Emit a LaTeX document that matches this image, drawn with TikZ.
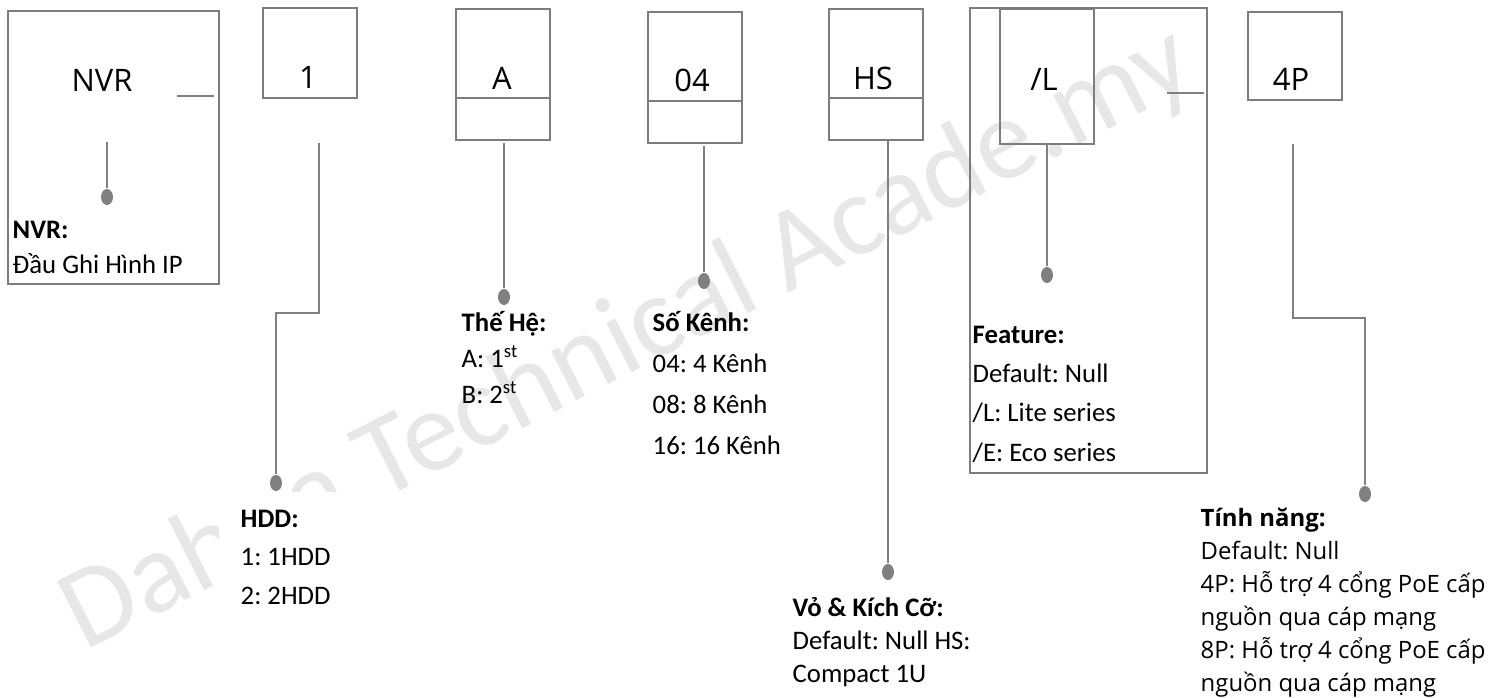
\documentclass[tikz,border=0pt]{standalone}
\usepackage{fontspec}
\setmainfont{Carlito}
\newfontfamily\boxfont{Open Sans}
\usetikzlibrary{positioning,shapes.geometric}
\definecolor{leadgray}{RGB}{128,128,128}
\definecolor{edgegray}{RGB}{125,125,125}
\definecolor{markgray}{RGB}{231,231,231}
\newcommand{\codefont}{\boxfont\fontsize{8.8}{10.6}\selectfont}
\newcommand{\infofont}{\fontsize{7.6}{10.95}\selectfont}
\newcommand{\notefont}{\fontsize{7.6}{9.25}\selectfont}
\newcommand{\tipfont}{\boxfont\fontsize{6.8}{9.33}\selectfont}
\frenchspacing

\begin{document}
\begin{tikzpicture}[x=0.01cm,y=-0.01cm,
    cell/.style={draw=edgegray,line width=0.6pt,inner sep=0pt,
                 minimum width=0.94cm,anchor=north west},
    tallcell/.style={cell,minimum height=1.31cm},
    shortcell/.style={cell,minimum height=0.9cm},
    code/.style={font=\codefont,inner sep=0pt,anchor=base},
    info/.style={font=\infofont,align=left,anchor=base west,inner sep=0pt},
    lead/.style={leadgray,line width=0.65pt},
    pin/.style={ellipse,fill=leadgray,inner sep=0pt,
                minimum width=0.12cm,minimum height=0.16cm}]
  \useasboundingbox (0,0) rectangle (1495,697);
  % watermark
  \node[rotate=27,text=markgray,font=\fontsize{33}{33}\selectfont,
        inner sep=0pt,anchor=base west]
       (mark) at (84,652) {Dahua Technical Acade.my};

  % code boxes
  \node[cell,minimum width=2.11cm,minimum height=2.73cm] (bNVR) at (7,10) {};
  \node[shortcell] (bHDD) at (262,7) {};
  \node[tallcell]  (bGen) at (455,8) {};
  \node[tallcell]  (bCh)  at (647,11) {};
  \node[tallcell]  (bHS)  at (828,8) {};
  \node[cell,minimum width=2.37cm,minimum height=4.65cm] (bFeat) at (969,7) {};
  \node[tallcell,minimum height=1.35cm] (bL) at (999,8) {};
  \node[shortcell,minimum height=0.88cm] (bPoE) at (1247,11) {};
  \foreach \b in {bGen,bCh,bHS}
    \draw[draw=edgegray,line width=0.6pt]
      ([yshift=-0.9cm]\b.north west) -- ([yshift=-0.9cm]\b.north east);

  \node[code] (tNVR) at (102,91)  {NVR};
  \node[code] (tHDD) at (308,88)  {1};
  \node[code] (tGen) at (502,89)  {A};
  \node[code] (tCh)  at (692,91)  {04};
  \node[code] (tHS)  at (873,89)  {HS};
  \node[code] (tL)   at (1044,90) {/L};
  \node[code] (tPoE) at (1291,90) {4P};

  % stubs
  \coordinate (n1) at (177,96);   \coordinate (n2) at (214,96);
  \coordinate (f1) at (1167,93);  \coordinate (f2) at (1204,93);
  \draw[lead] (n1) -- (n2);
  \draw[lead] (f1) -- (f2);

  % leads and pins
  \coordinate (sNVR) at (107,142);
  \coordinate (sHDD) at (319,143);  \coordinate (jHDD) at (276,313);
  \coordinate (sGen) at (504,143);
  \coordinate (sCh)  at (704,146);
  \coordinate (sHS)  at (888,140);
  \coordinate (sL)   at (1047,143);
  \coordinate (sPoE) at (1293,144); \coordinate (jPoE) at (1365,318);
  \node[pin] (dNVR) at (107,197) {};
  \node[pin] (dHDD) at (276,483) {};
  \node[pin] (dGen) at (504,297) {};
  \node[pin] (dCh)  at (704,281) {};
  \node[pin] (dHS)  at (888,572) {};
  \node[pin] (dL)   at (1047,275) {};
  \node[pin] (dPoE) at (1365,494) {};
  \draw[lead] (sNVR) -- (dNVR);
  \draw[lead] (sHDD) |- (jHDD) -- (dHDD);
  \draw[lead] (sGen) -- (dGen);
  \draw[lead] (sCh)  -- (dCh);
  \draw[lead] (sHS)  -- (dHS);
  \draw[lead] (sL)   -- (dL);
  \draw[lead] (sPoE) |- (jPoE) -- (dPoE);

  % descriptions (anchored at the baseline of the last line)
  \node[info,font=\fontsize{7.6}{9.67}\selectfont] (iNVR) at (12,273)
       {\textbf{NVR:}\\Đầu Ghi Hình IP};
  \node[info,fill=white,inner xsep=0.22cm,inner ysep=0.18cm,anchor=south west]
       (iHDD) at (218,623) {\textbf{HDD:}\\1: 1HDD\\2: 2HDD};
  \node[info,font=\fontsize{7.6}{10.1}\selectfont] (iGen) at (461,403)
       {\textbf{Thế Hệ:}\\A: 1\textsuperscript{st}\\B: 2\textsuperscript{st}};
  \node[info,font=\fontsize{7.6}{11.58}\selectfont] (iCh) at (652,454)
       {\textbf{Số Kênh:}\\04: 4 Kênh\\08: 8 Kênh\\16: 16 Kênh};
  \node[info,font=\fontsize{7.6}{11.1}\selectfont] (iFeat) at (972,461)
       {\textbf{Feature:}\\Default: Null\\/L: Lite series\\/E: Eco series};
  \node[info,font=\notefont] (iHS) at (792,682)
       {\textbf{Vỏ \& Kích Cỡ:}\\Default: Null HS:\\Compact 1U};
  \node[info,font=\tipfont] (iPoE) at (1200,691)
       {\textbf{Tính năng:}\\Default: Null\\4P: Hỗ trợ 4 cổng PoE cấp\\
        nguồn qua cáp mạng\\8P: Hỗ trợ 4 cổng PoE cấp\\nguồn qua cáp mạng};
\end{tikzpicture}
\end{document}
